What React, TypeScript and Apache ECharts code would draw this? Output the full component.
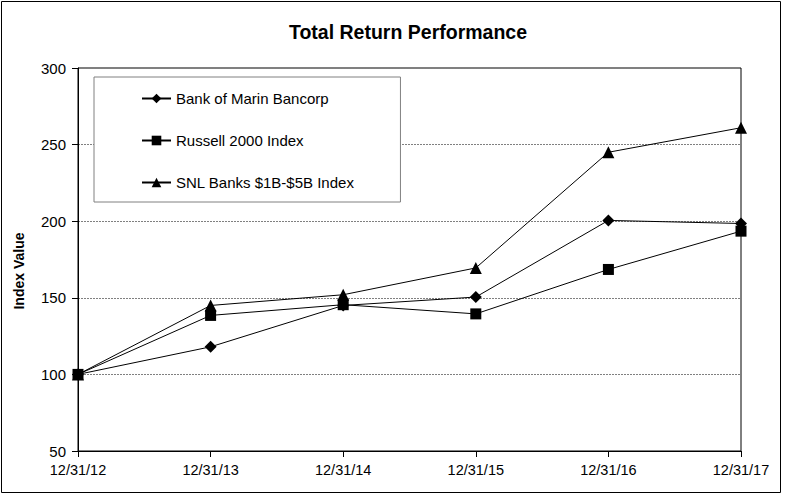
import React, { useEffect, useRef } from "react";
import * as echarts from "echarts";

const dates = ["12/31/12", "12/31/13", "12/31/14", "12/31/15", "12/31/16", "12/31/17"];
const bankOfMarin = [100, 118, 145, 150.5, 200.5, 198.5];
const russell2000 = [100, 138.5, 145.5, 139.5, 168.5, 193.5];
const snlBanks = [100, 145, 152, 169.5, 245, 261];

const FONT = "'Liberation Sans', Arial, sans-serif";

const App = () => {
  const chartRef = useRef<HTMLDivElement>(null);

  useEffect(() => {
    const chart = echarts.init(chartRef.current, null, { renderer: "svg" });

    const lineSeries = (name: string, data: number[], symbol: string, size: number) => ({
      name,
      type: "line",
      data,
      symbol,
      symbolSize: size,
      showAllSymbol: true,
      lineStyle: { color: "#000", width: 1 },
      itemStyle: { color: "#000" },
    });

    chart.setOption({
      animation: false,
      backgroundColor: "#fff",
      textStyle: { fontFamily: FONT },
      title: {
        text: "Total Return Performance",
        left: 403,
        top: 17,
        textAlign: "center",
        textStyle: { fontFamily: FONT, fontSize: 19.5, fontWeight: "bold", color: "#000" },
      },
      legend: {
        orient: "vertical",
        left: 94,
        top: 77,
        padding: [14, 46, 12, 47],
        itemGap: 27,
        itemWidth: 29,
        itemHeight: 12,
        backgroundColor: "#fff",
        borderColor: "#808080",
        borderWidth: 1,
        textStyle: { fontFamily: FONT, fontSize: 15, color: "#000" },
        data: ["Bank of Marin Bancorp", "Russell 2000 Index", "SNL Banks $1B-$5B Index"],
      },
      grid: {
        left: 78,
        right: 44,
        top: 68,
        bottom: 44,
        show: true,
        borderColor: "#000",
        borderWidth: 1,
      },
      xAxis: {
        type: "category",
        boundaryGap: false,
        data: dates,
        axisLine: { lineStyle: { color: "#000", width: 1 } },
        axisTick: { show: true, inside: false, length: 6, lineStyle: { color: "#000" } },
        axisLabel: { color: "#000", fontFamily: FONT, fontSize: 14.5, margin: 11 },
        splitLine: { show: false },
      },
      yAxis: {
        type: "value",
        min: 50,
        max: 300,
        interval: 50,
        axisLine: { show: true, lineStyle: { color: "#000", width: 1 } },
        axisTick: { show: true, inside: false, length: 6, lineStyle: { color: "#000" } },
        axisLabel: { color: "#000", fontFamily: FONT, fontSize: 15, margin: 12 },
        splitLine: { show: true, lineStyle: { color: "#808080", type: [2, 1], width: 1 } },
      },
      graphic: [
        {
          type: "rect",
          shape: { x: 1.5, y: 1.5, width: 779, height: 491 },
          style: { fill: "none", stroke: "#000", lineWidth: 1 },
          silent: true,
        },
        {
          type: "text",
          x: 19,
          y: 271,
          rotation: Math.PI / 2,
          style: {
            text: "Index Value",
            fontFamily: FONT,
            fontSize: 14,
            fontWeight: "bold",
            fill: "#000",
            align: "center",
            verticalAlign: "middle",
          },
        },
      ],
      series: [
        lineSeries("Bank of Marin Bancorp", bankOfMarin, "diamond", 12),
        lineSeries("Russell 2000 Index", russell2000, "rect", 11),
        lineSeries("SNL Banks $1B-$5B Index", snlBanks, "triangle", 12),
      ],
    });

    return () => {
      chart.dispose();
    };
  }, []);

  return (
    <div
      ref={chartRef}
      style={{ position: "absolute", left: 0, top: 0, width: 785, height: 495 }}
    />
  );
};

export default App;
